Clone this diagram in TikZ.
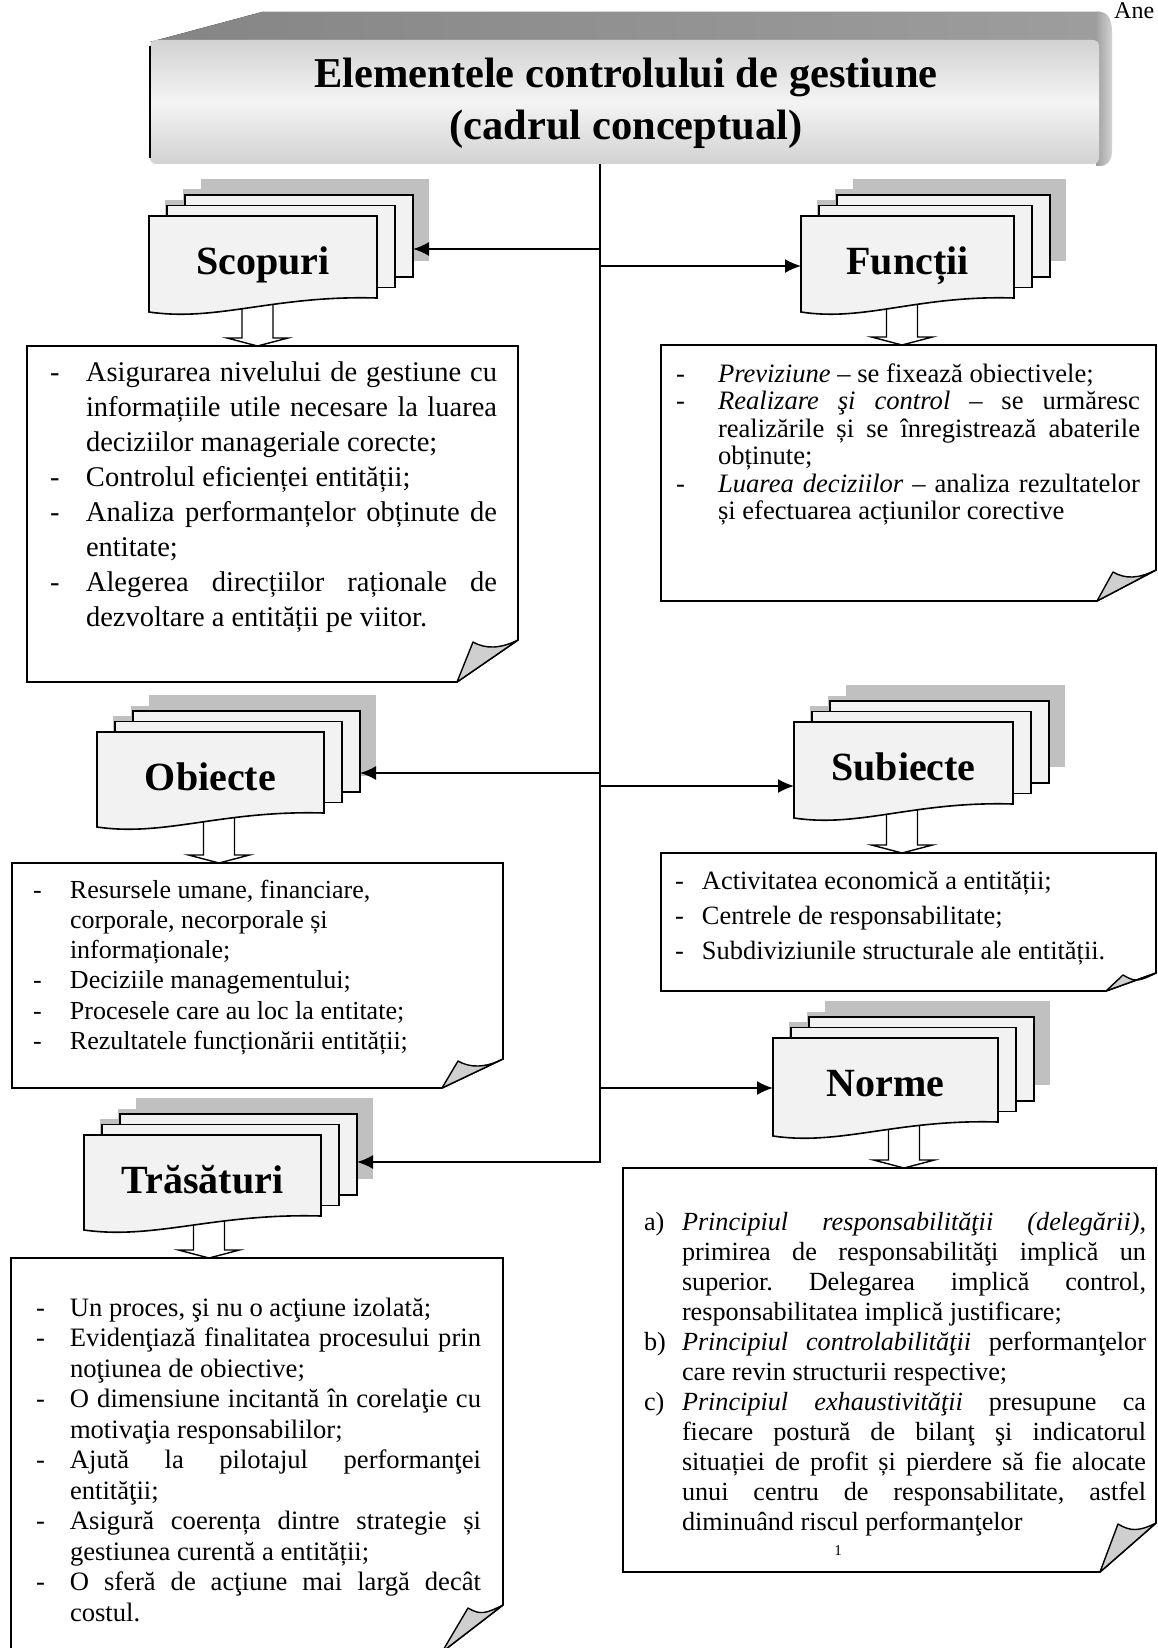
\documentclass[tikz,border=0pt]{standalone}
\usepackage{fontspec}
\setmainfont{Liberation Serif}
\usetikzlibrary{arrows.meta}
\frenchspacing

\definecolor{pagefill}{HTML}{F2F2F2}
\definecolor{shadowgray}{HTML}{C0C0C0}
\definecolor{foldgray}{HTML}{CFCFCF}
\definecolor{titletop}{HTML}{858585}
\definecolor{titleedge}{HTML}{D2D2D2}
\definecolor{titlemid}{HTML}{F4F4F4}

\newlength\dashw
\newlength\txtw
% one line of a list: justified (jline) or ragged (rline), with its bullet
\newcommand{\jline}[2]{\hbox{\hbox to\dashw{#1\hfil}\hbox to\txtw{#2}}}
\newcommand{\rline}[2]{\hbox{\hbox to\dashw{#1\hfil}#2}}

\tikzset{
  x=1pt, y=-1pt,
  conn/.style={line width=1.8pt, -{Latex[length=16pt,width=14pt]}},
  pagebox/.style={draw=black, line width=1.6pt, fill=pagefill, line join=miter},
  pageshadow/.style={fill=shadowgray},
  notebox/.style={draw=black, line width=1.6pt, fill=white},
  foldtri/.style={draw=black, line width=1.4pt, fill=foldgray, line join=round},
  downarrow/.style={draw=black, line width=1.4pt, fill=white},
  stacklabel/.style={font=\fontsize{40}{48}\selectfont\bfseries, inner sep=0pt, anchor=base},
  textblock/.style={inner sep=0pt, outer sep=0pt, anchor=base west},
}

% stack of three sheets with shadows: name, left, top, width, height, label, connector offset
\newcommand{\docstack}[7]{%
  \begin{scope}[shift={(#2,#3)}]
    \foreach \k in {0,1,2}{
      \fill[pageshadow] ({18*\k+16},{-10.5*\k-16}) rectangle ({18*\k+16+#4},{-10.5*\k-16+#5});
    }
    \foreach \k in {2,1}{
      \draw[pagebox] ({18*\k},{-10.5*\k}) rectangle ({18*\k+#4},{-10.5*\k+#5});
    }
    \draw[pagebox] (0,0) -- (#4,0) -- (#4,#5)
      .. controls ({0.55*#4},{#5-3}) and ({0.3*#4},{#5+24}) .. (0,{#5+14}) -- cycle;
    \node[stacklabel] (#1) at ({#4/2},58) {#6};
    \coordinate (#1-e) at ({36+#4},#7);
    \coordinate (#1-w) at (0,#7);
  \end{scope}}

% text box with a folded lower right corner: left, top, right, bottom, fold start y, fold end x, curl x, curl y
\newcommand{\notebox}[8]{%
  \draw[notebox] (#1,#2) -- (#3,#2) -- (#3,#5) -- (#6,#4) -- (#1,#4) -- cycle;
  \draw[foldtri] (#3,#5) .. controls ({#3-18},{#5+9}) and ({#7+12},{#8+7}) .. (#7,#8) -- (#6,#4) -- cycle;
}

% hollow block arrow pointing down: centre x, top y, tip y
\newcommand{\dropar}[3]{%
  \draw[downarrow] ({#1-15.5},#2) -- ({#1-15.5},{#3-8}) -- ({#1-30.5},{#3-8}) -- (#1,#3)
    -- ({#1+30.5},{#3-8}) -- ({#1+15.5},{#3-8}) -- ({#1+15.5},#2);
}

\begin{document}
\begin{tikzpicture}
\useasboundingbox (0,0) rectangle (1158,1648);
\clip (0,0) rectangle (1158,1648);

% ---------- heading block ----------
\fill[left color=titletop, right color=titletop!80!white] (150,42) -- (262,12) -- (1100,12) -- (1100,42) -- cycle;
\shade[left color=gray!75, right color=gray!35]
  (1096,12) -- (1100,12) .. controls (1108,12) and (1112,20) .. (1112,32)
  -- (1112,150) .. controls (1112,160) and (1108,166) .. (1100,166) -- (1096,166) -- cycle;
\shade[top color=titleedge, bottom color=titleedge, middle color=titlemid, rounded corners=6pt]
  (150,40) rectangle (1099,164);
\draw[line width=2.6pt] (150,46) -- (150,158);
\node[font=\fontsize{42.5}{52}\selectfont\bfseries, align=center, inner sep=0pt] (title) at (626,103)
  {Elementele controlului de gestiune\\(cadrul conceptual)};
\node[font=\fontsize{24}{28}\selectfont, anchor=base west, inner sep=0pt] (anexa) at (1114,19) {Ane};

% ---------- text boxes ----------
\notebox{27}{346}{518}{682}{640}{457}{473}{642}
\node[textblock, font=\fontsize{28.5}{35}\selectfont] (scop-text) at (50,381) {%
\setlength\dashw{36pt}\setlength\txtw{411pt}%
\vtop{%
\jline{-}{Asigurarea nivelului de gestiune cu}
\jline{}{informațiile utile necesare la luarea}
\rline{}{deciziilor manageriale corecte;}
\rline{-}{Controlul eficienței entității;}
\jline{-}{Analiza performanțelor obținute de}
\rline{}{entitate;}
\jline{-}{Alegerea direcțiilor raționale de}
\rline{}{dezvoltare a entității pe viitor.}
}};

\notebox{661}{345}{1156}{601}{570}{1097}{1113}{572}
\node[textblock, font=\fontsize{26.6}{27.5}\selectfont] (func-text) at (676,382) {%
\setlength\dashw{42pt}\setlength\txtw{422pt}%
\vtop{%
\rline{-}{\textit{Previziune} – se fixează obiectivele;}
\jline{-}{\textit{Realizare şi control} – se urmăresc}
\jline{}{realizările și se înregistrează abaterile}
\rline{}{obținute;}
\jline{-}{\textit{Luarea deciziilor} – analiza rezultatelor}
\rline{}{și efectuarea acțiunilor corective}
}};

\notebox{12}{863}{503}{1088}{1059}{442}{458}{1061}
\node[textblock, font=\fontsize{26}{30.3}\selectfont] (obie-text) at (33,898) {%
\setlength\dashw{37pt}%
\vtop{%
\rline{-}{Resursele umane, financiare,}
\rline{}{corporale, necorporale și}
\rline{}{informaționale;}
\rline{-}{Deciziile managementului;}
\rline{-}{Procesele care au loc la entitate;}
\rline{-}{Rezultatele funcționării entității;}
}};

\notebox{661}{853}{1156}{991}{973}{1106}{1123}{975}
\node[textblock, font=\fontsize{26.4}{35}\selectfont] (subi-text) at (675,889) {%
\setlength\dashw{27pt}%
\vtop{%
\rline{-}{Activitatea economică a entității;}
\rline{-}{Centrele de responsabilitate;}
\rline{-}{Subdiviziunile structurale ale entității.}
}};

\notebox{623}{1168}{1156}{1572}{1523}{1100}{1118}{1524}
\node[textblock, font=\fontsize{26.2}{30}\selectfont] (norm-text) at (644,1230) {%
\setlength\dashw{38pt}\setlength\txtw{464pt}%
\vtop{%
\jline{a)}{\textit{Principiul responsabilităţii (delegării),}}
\jline{}{primirea de responsabilităţi implică un}
\jline{}{superior. Delegarea implică control,}
\rline{}{responsabilitatea implică justificare;}
\jline{b)}{\textit{Principiul controlabilităţii} performanţelor}
\rline{}{care revin structurii respective;}
\jline{c)}{\textit{Principiul exhaustivităţii} presupune ca}
\jline{}{fiecare postură de bilanţ şi indicatorul}
\jline{}{situației de profit și pierdere să fie alocate}
\jline{}{unui centru de responsabilitate, astfel}
\rline{}{diminuând riscul performanţelor}
}};
\node[font=\fontsize{15}{17}\selectfont, inner sep=0pt] (norm-note) at (838,1551) {1};

\notebox{11}{1258}{503}{1652}{1605}{442}{468}{1608}
\node[textblock, font=\fontsize{26.6}{30.5}\selectfont] (tras-text) at (36,1316) {%
\setlength\dashw{34pt}\setlength\txtw{411pt}%
\vtop{%
\rline{-}{Un proces, şi nu o acţiune izolată;}
\jline{-}{Evidenţiază finalitatea procesului prin}
\rline{}{noţiunea de obiective;}
\jline{-}{O dimensiune incitantă în corelaţie cu}
\rline{}{motivaţia responsabililor;}
\jline{-}{Ajută la pilotajul performanţei}
\rline{}{entităţii;}
\jline{-}{Asigură coerența dintre strategie și}
\rline{}{gestiunea curentă a entității;}
\jline{-}{O sferă de acţiune mai largă decât}
\rline{}{costul.}
}};

% ---------- block arrows from the sheets to their boxes ----------
\dropar{257.5}{298}{346}
\dropar{902}{298}{345}
\dropar{219}{813}{863}
\dropar{902}{804}{853}
\dropar{904}{1122}{1168}
\dropar{209}{1216}{1258}

% ---------- sheet stacks ----------
\docstack{scop}{149}{216}{228}{82}{Scopuri}{33}
\docstack{func}{801}{216}{213}{82}{Funcții}{50}
\docstack{obie}{97}{732}{227}{81}{Obiecte}{41}
\docstack{subi}{794}{722}{219}{82}{Subiecte}{64}
\docstack{norm}{773}{1038}{225}{84}{Norme}{50}
\docstack{tras}{84}{1135}{237}{81}{Trăsături}{27}

% ---------- trunk and connectors ----------
\coordinate (trunk-top) at (600,164);
\coordinate (trunk-bot) at (600,1162);
\draw[conn] (trunk-top) -- (trunk-bot) -- (tras-e);
\draw[conn] (scop-e -| trunk-top) -- (scop-e);
\draw[conn] (func-w -| trunk-top) -- (func-w);
\draw[conn] (obie-e -| trunk-top) -- (obie-e);
\draw[conn] (subi-w -| trunk-top) -- (subi-w);
\draw[conn] (norm-w -| trunk-top) -- (norm-w);
\end{tikzpicture}
\end{document}
